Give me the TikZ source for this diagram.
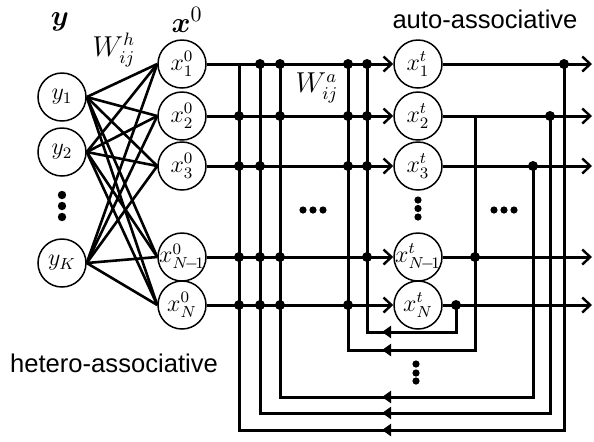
\documentclass[tikz,border=0pt]{standalone}
\usepackage{amsmath,amssymb}
\usepackage{fontspec}
\newfontfamily\labelfont{Liberation Sans}
\usetikzlibrary{arrows.meta}

% circle label of fixed width so every neuron has the same size
\newcommand{\nlab}[1]{\makebox[0pt][c]{$#1$}}

\tikzset{
  neuron/.style={circle, draw, line width=0.75pt, minimum size=24pt, inner sep=0pt,
    font=\fontsize{11.5}{12}\selectfont},
  wire/.style={line width=1.5pt},
  fwd/.style={wire, -{Straight Barb[length=4pt,width=7.5pt,line width=1.2pt]}},
  back/.style={wire, -{Triangle[length=4.5pt,width=6pt]}},
  junc/.style={circle, fill, inner sep=0pt, minimum size=5pt},
  dotty/.style={circle, fill, inner sep=0pt, minimum size=3.6pt},
  sanslab/.style={font=\labelfont\fontsize{12.8}{14}\selectfont},
}

\begin{document}
\begin{tikzpicture}[x=0.5pt, y=-0.5pt]
  \useasboundingbox (0,0) rectangle (594,441);

  % input layer y
  \node[neuron] (y1) at (62,97)  {\nlab{y_1}};
  \node[neuron] (y2) at (62,152) {\nlab{y_2}};
  \node[neuron] (yK) at (62,263) {\nlab{y_K}};

  % initial state x^0 and state x^t
  \foreach \i/\yy/\s in {1/64/1, 2/116/2, 3/166/3, 4/257/{N\!-\!1}, 5/305/N} {
    \node[neuron] (a\i) at (182,\yy) {\nlab{x^0_{\s}}};
    \node[neuron] (b\i) at (418,\yy) {\nlab{x^t_{\s}}};
    \coordinate (e\i) at (592,\yy);
  }

  % hetero-associative weights
  \foreach \s in {y1,y2,yK}
    \foreach \t in {a1,a2,a3,a4,a5}
      \draw[wire, line width=1.3pt] (\s.east) -- (\t.west);

  \foreach \i in {1,...,5} {
    \draw[fwd] (a\i) -- (b\i);
    \draw[fwd] (b\i) -- (e\i);
  }

  % feedback loops: left column / right column / bottom / row / start of right column
  \foreach \i/\v/\r/\b/\ry/\rs in {1/239/564/430/64/64, 2/260/550/413/116/116,
      3/280/533/397/166/166, 4/348/475/350/257/116, 5/367/456/332/305/305} {
    \coordinate (top\i) at (\v,64);
    \coordinate (bot\i) at (\v,\b);
    \coordinate (rb\i) at (\r,\b);
    \coordinate (rs\i) at (\r,\rs);
    \coordinate (mk\i) at (382,\b);
    \draw[wire] (rs\i) -- (rb\i) -- (mk\i);
    \draw[back] (rb\i) -- (mk\i);
    \draw[wire] (mk\i) -- (bot\i) -- (top\i);
    \node[junc] (r\i) at (\r,\ry) {};
    \foreach \j/\yy in {1/64, 2/116, 3/166, 4/257, 5/305} {
      \ifnum\j=\i\else \node[junc] (j\i\j) at (\v,\yy) {};\fi
    }
  }

  % ellipses
  \foreach \k/\yy in {1/195, 2/206, 3/217}
    \node[dotty, minimum size=4.2pt] (dy\k) at (62,\yy) {};
  \foreach \k/\yy in {1/200, 2/208.5, 3/217}
    \node[dotty] (dx\k) at (418,\yy) {};
  \foreach \k/\yy in {1/364, 2/373, 3/381}
    \node[dotty] (db\k) at (416,\yy) {};
  \foreach \k/\xx in {1/303, 2/313, 3/323}
    \node[dotty] (dl\k) at (\xx,210) {};
  \foreach \k/\xx in {1/494, 2/504, 3/514}
    \node[dotty] (dr\k) at (\xx,210) {};

  % labels
  \node[font=\fontsize{15.5}{17}\selectfont] (ylab) at (60,22) {$\boldsymbol{y}$};
  \node[font=\fontsize{15.5}{17}\selectfont] (xlab) at (187,20) {$\boldsymbol{x}^0$};
  \node[font=\fontsize{13.5}{15}\selectfont] (wh) at (114,50) {$W^h_{ij}$};
  \node[font=\fontsize{13.5}{15}\selectfont] (wa) at (317,88) {$W^a_{ij}$};
  \node[sanslab] (auto) at (485,19) {auto-associative};
  \node[sanslab] (hetero) at (114,363) {hetero-associative};
\end{tikzpicture}
\end{document}
